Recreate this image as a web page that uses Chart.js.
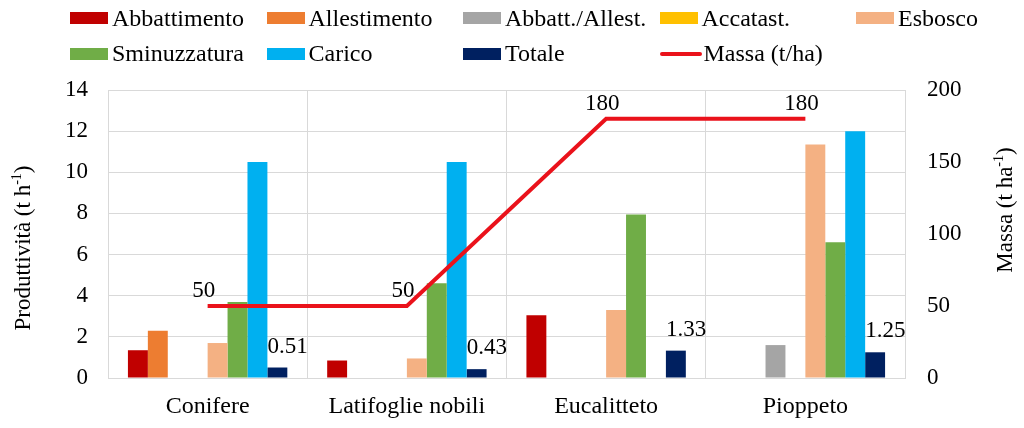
<!DOCTYPE html>
<html>
<head>
<meta charset="utf-8">
<script src="https://cdn.jsdelivr.net/npm/chart.js@4.4.1/dist/chart.umd.min.js"></script>
<style>
  html, body { margin: 0; padding: 0; background: #fff; }
  #wrap { position: relative; width: 1024px; height: 428px; }
  #legend { position: absolute; left: 70px; top: 0; display: grid; grid-template-columns: repeat(5, 196.5px); grid-auto-rows: 35.5px;
    font-family: "Liberation Serif", serif; font-size: 24px; color: #000; }
  .item { display: flex; align-items: center; height: 36px; white-space: nowrap; }
  .box { width: 38px; height: 12px; margin-right: 4px; flex: none; }
  .ln { width: 42px; height: 4px; margin-right: 2px; border-radius: 2px; flex: none; }
</style>
</head>
<body>
<div id="wrap">
  <canvas id="chart" width="1024" height="428"></canvas>
  <div id="legend"></div>
</div>
<script>
// ===============================
// DATI
// ===============================
const categories = ["Conifere", "Latifoglie nobili", "Eucalitteto", "Pioppeto"];

const abbattimento   = [1.35, 0.85, 3.05, null];
const allestimento   = [2.3, null, null, null];
const abbattAllest   = [null, null, null, 1.6];
const accatast       = [null, null, null, null];
const esbosco        = [1.7, 0.95, 3.3, 11.35];
const sminuzzatura   = [3.7, 4.6, 7.95, 6.6];
const carico         = [10.5, 10.5, null, 12];
const totale         = [0.51, 0.43, 1.33, 1.25];
const massa          = [50, 50, 180, 180];

const leftTicks = { min: 0, max: 14, step: 2 };
const rightTicks = { min: 0, max: 200, step: 50 };

const FONT = "Liberation Serif";

const barSeries = [
    ["Abbattimento", abbattimento, "#c00000"],
    ["Allestimento", allestimento, "#ed7d31"],
    ["Abbatt./Allest.", abbattAllest, "#a5a5a5"],
    ["Accatast.", accatast, "#ffc000"],
    ["Esbosco", esbosco, "#f4b183"],
    ["Sminuzzatura", sminuzzatura, "#70ad47"],
    ["Carico", carico, "#00b0f0"],
    ["Totale", totale, "#002060"]
];

const datasets = barSeries.map(([label, data, color]) => ({
    type: "bar", label, data, backgroundColor: color, yAxisID: "y", order: 1
}));
datasets.push({
    type: "line", label: "Massa (t/ha)", data: massa, borderColor: "#ea121b",
    borderWidth: 4, pointRadius: 0, tension: 0, yAxisID: "y1", order: 0
});

// ===============================
// LEGENDA
// ===============================
const legend = document.getElementById("legend");
datasets.forEach(ds => {
    const item = document.createElement("div");
    item.className = "item";
    const mark = document.createElement("span");
    if (ds.type === "line") {
        mark.className = "ln";
        mark.style.background = ds.borderColor;
    } else {
        mark.className = "box";
        mark.style.background = ds.backgroundColor;
    }
    item.appendChild(mark);
    item.appendChild(document.createTextNode(ds.label));
    legend.appendChild(item);
});

// ===============================
// PLUGIN: etichette e titoli assi
// ===============================
function drawTitle(ctx, x, y, parts) {
    ctx.save();
    ctx.translate(x, y);
    ctx.rotate(-Math.PI / 2);
    ctx.fillStyle = "#000";
    ctx.textBaseline = "middle";
    ctx.textAlign = "left";
    let total = 0;
    parts.forEach(p => {
        ctx.font = (p.sup ? 14 : 23) + "px '" + FONT + "'";
        p.w = ctx.measureText(p.t).width;
        total += p.w;
    });
    let cx = -total / 2;
    parts.forEach(p => {
        ctx.font = (p.sup ? 14 : 23) + "px '" + FONT + "'";
        ctx.fillText(p.t, cx, p.sup ? -7 : 0);
        cx += p.w;
    });
    ctx.restore();
}

const labelsPlugin = {
    id: "labelsPlugin",
    afterDatasetsDraw(chart) {
        const ctx = chart.ctx;
        ctx.save();
        ctx.font = "23px '" + FONT + "'";
        ctx.fillStyle = "#000";
        ctx.textBaseline = "middle";

        const totMeta = chart.getDatasetMeta(7);
        totMeta.data.forEach((el, i) => {
            if (totale[i] == null) return;
            ctx.textAlign = "left";
            ctx.fillText(totale[i].toFixed(2), el.x - el.width / 2, el.y - 21);
        });

        const lineMeta = chart.getDatasetMeta(8);
        lineMeta.data.forEach((el, i) => {
            ctx.textAlign = "center";
            ctx.fillText(String(massa[i]), el.x - 4, el.y - 15);
        });
        ctx.restore();

        const a = chart.chartArea;
        const mid = (a.top + a.bottom) / 2;
        drawTitle(ctx, 24, mid + 14, [{ t: "Produttività (t h" }, { t: "-1", sup: true }, { t: ")" }]);
        drawTitle(ctx, 1006, mid - 24, [{ t: "Massa (t ha" }, { t: "-1", sup: true }, { t: ")" }]);
    }
};

// ===============================
// GRAFICO
// ===============================
const gridColor = "#d9d9d9";
const tickFont = { family: FONT, size: 23 };

new Chart(document.getElementById("chart"), {
    data: { labels: categories, datasets },
    options: {
        responsive: false,
        animation: false,
        layout: { padding: { top: 90, left: 0, right: 0, bottom: 0 } },
        datasets: { bar: { categoryPercentage: 0.8, barPercentage: 1.0 } },
        plugins: { legend: { display: false }, tooltip: { enabled: false } },
        scales: {
            x: {
                grid: { color: gridColor, drawTicks: false, offset: true },
                border: { color: gridColor },
                ticks: { font: { family: FONT, size: 24 }, color: "#000", padding: 14 },
                afterFit: s => { s.height = 50; }
            },
            y: {
                position: "left",
                min: leftTicks.min, max: leftTicks.max,
                ticks: { stepSize: leftTicks.step, font: tickFont, color: "#000", padding: 20 },
                grid: { color: gridColor, drawTicks: false },
                border: { color: gridColor },
                afterFit: s => { s.width = 108; }
            },
            y1: {
                position: "right",
                min: rightTicks.min, max: rightTicks.max,
                ticks: { stepSize: rightTicks.step, font: tickFont, color: "#000", padding: 22 },
                grid: { display: false, drawTicks: false },
                border: { color: gridColor },
                afterFit: s => { s.width = 119; }
            }
        }
    },
    plugins: [labelsPlugin]
});
</script>
</body>
</html>
